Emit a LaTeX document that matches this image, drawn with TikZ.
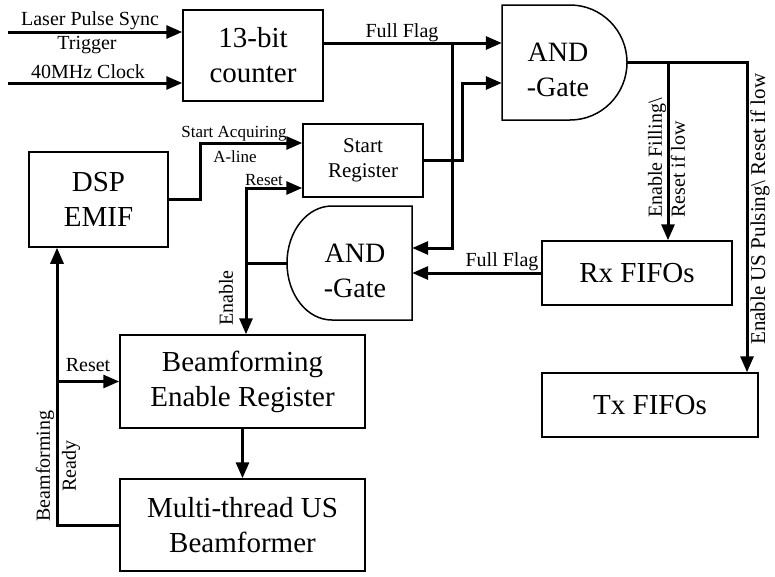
\documentclass[tikz,border=0pt]{standalone}
\usepackage{fontspec}
\setmainfont{Liberation Serif}
\usetikzlibrary{arrows.meta}

\begin{document}
\begin{tikzpicture}[x=1pt, y=-1pt,
    blk/.style={draw, line width=1.5pt, inner sep=0pt, align=center, font=\fontsize{29}{35}\selectfont},
    gate/.style={inner sep=0pt},
    gatetxt/.style={inner sep=0pt, align=center, font=\fontsize{28}{35}\selectfont},
    gateline/.style={line width=1.5pt},
    sig/.style={line width=3pt, -{Triangle[length=16pt,width=13pt]}},
    wire/.style={line width=3pt},
    lbl/.style={inner sep=0pt, font=\fontsize{20}{23}\selectfont},
    minilbl/.style={inner sep=0pt, font=\fontsize{17}{20}\selectfont}]
      \useasboundingbox (0,0) rectangle (775,576);

      \node[blk, minimum width=140pt, minimum height=91pt] (counter) at (253,55.5) {13-bit\\counter};
      \node[blk, minimum width=139pt, minimum height=95pt] (dsp) at (98.5,199.5) {DSP\\EMIF};
      \node[blk, minimum width=120pt, minimum height=73pt, font=\fontsize{21}{25}\selectfont] (start) at (363,160.5) {Start\\Register};
      \node[blk, minimum width=190pt, minimum height=64pt] (rx) at (637,273) {Rx FIFOs};
      \node[blk, minimum width=216pt, minimum height=64pt] (tx) at (650,405) {Tx FIFOs};
      \node[blk, minimum width=245pt, minimum height=93pt] (ber) at (242.5,381.5) {Beamforming\\Enable Register};
      \node[blk, minimum width=245pt, minimum height=92pt] (mtb) at (242.5,525) {Multi-thread US\\Beamformer};

      % gates
      \node[gate, minimum width=125pt, minimum height=115pt] (andA) at (564.5,62.5) {};
      \draw[gateline] (502,120) -- (502,5) -- (570,5) .. controls (601.5,5) and (627,30.7) .. (627,62.5)
                      .. controls (627,94.3) and (601.5,120) .. (570,120) -- cycle;
      \node[gatetxt] (andAtxt) at (558,70) {AND\\-Gate};
      \node[gate, minimum width=125pt, minimum height=114pt] (andB) at (349.5,263) {};
      \draw[gateline] (412,206) -- (412,320) -- (332,320) .. controls (307,320) and (287,294.5) .. (287,263)
                      .. controls (287,231.5) and (307,206) .. (332,206) -- cycle;
      \node[gatetxt] (andBtxt) at (355,270.5) {AND\\-Gate};

      % inputs and counter
      \coordinate (laserin) at (8,32);
      \coordinate (clkin) at (8,83);
      \draw[sig] (laserin) -- (laserin -| counter.west);
      \draw[sig] (clkin) -- (clkin -| counter.west);
      \coordinate (ffsplit) at (452,43);
      \draw[sig] (counter.east |- ffsplit) -- (andA.west |- ffsplit);
      \draw[sig] (ffsplit) |- ([yshift=15pt]andB.east);
      \draw[sig] (start.east) -- ++(39,0) |- ([yshift=-20.5pt]andA.west);
      \draw[sig] (dsp.east) -- ++(32,0) |- ([yshift=17.5pt]start.west);

      % enable path
      \coordinate (enjoin) at (246,263);
      \draw[wire] (andB.west) -- (enjoin);
      \draw[sig] (enjoin) |- ([yshift=-27.5pt]start.west);
      \draw[sig] (enjoin) -- (enjoin |- ber.north);
      \draw[sig] (rx.west) -- (andB.east |- rx.west);

      % FIFOs
      \coordinate (rxsplit) at (668,62.5);
      \draw[sig] (andA.east) -| ([xshift=97pt]tx.north);
      \draw[sig] (rxsplit) -- (rxsplit |- rx.north);

      % beamformer loop
      \draw[sig] (ber.south) -- (mtb.north);
      \coordinate (rdy) at ([xshift=-41.5pt]dsp.south);
      \draw[sig] (mtb.west) -| (rdy);
      \draw[sig] (rdy |- ber.west) -- (ber.west);

      % --------------------------------------------------------------------------
      \node[lbl] (laserlbl) at (90,21) {Laser Pulse Sync};
      \node[lbl] (triglbl) at (87,45) {Trigger};
      \node[lbl] (clklbl) at (88,72) {40MHz Clock};
      \node[lbl] (fflbl) at (402,33) {Full Flag};
      \node[minilbl] (acqlbl) at (234,134) {Start Acquiring};
      \node[minilbl] (alinelbl) at (235,157) {A-line};
      \node[minilbl] (rstlbl) at (264,180) {Reset};
      \node[lbl, rotate=90] (enlbl) at (226,298) {Enable};
      \node[lbl] (fflblrx) at (502,262) {Full Flag};
      \node[lbl, rotate=90, anchor=west, align=left] (filllbl) at (666.5,218) {Enable Filling\textbackslash\\Reset if low};
      \node[lbl, rotate=90, anchor=west, font=\fontsize{21}{24}\selectfont] (uslbl) at (760,345) {Enable US Pulsing\textbackslash{} Reset if low};
      \node[lbl] (rstlblber) at (88,365) {Reset};
      \node[lbl, rotate=90, align=center] (rdylbl) at (58,466) {Beamforming\\[3pt]Ready};
    \end{tikzpicture}
\end{document}
